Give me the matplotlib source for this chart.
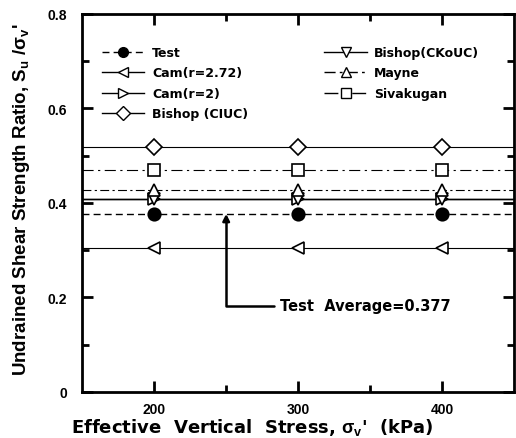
import matplotlib
matplotlib.use("Agg")
import matplotlib.pyplot as plt
from matplotlib.lines import Line2D

plt.rcParams['font.family'] = ['DejaVu Sans']
plt.rcParams['font.weight'] = 'bold'
plt.rcParams['mathtext.fontset'] = 'custom'
plt.rcParams['mathtext.rm'] = 'Liberation Sans:bold'
plt.rcParams['mathtext.it'] = 'Liberation Sans:bold'
plt.rcParams['xtick.labelsize'] = 10
plt.rcParams['ytick.labelsize'] = 10

stress = [200, 300, 400]
test = [0.377, 0.377, 0.377]
cam_272 = [0.305, 0.305, 0.305]
cam_2 = [0.408, 0.408, 0.408]
bishop_ciuc = [0.518, 0.518, 0.518]
bishop_ckouc = [0.408, 0.408, 0.408]
mayne = [0.428, 0.428, 0.428]
sivakugan = [0.469, 0.469, 0.469]
test_average = 0.377
xtick_labels = ['200', '300', '400']
ytick_labels = ['0', '0.2', '0.4', '0.6', '0.8']

fig = plt.figure(figsize=(5.16, 4.39), dpi=100)
ax = fig.add_axes([0.159, 0.105, 0.838, 0.861])

series = [
    ("Test", test, 'o', 'black', (0, (5, 3)), 1.0),
    ("Cam(r=2.72)", cam_272, '<', 'none', '-', 0.8),
    ("Cam(r=2)", cam_2, '>', 'none', '-', 1.0),
    ("Bishop (CIUC)", bishop_ciuc, 'D', 'none', '-', 0.8),
    ("Bishop(CKoUC)", bishop_ckouc, 'v', 'none', '-', 1.0),
    ("Mayne", mayne, '^', 'none', (0, (8, 3, 2, 3)), 0.8),
    ("Sivakugan", sivakugan, 's', 'none', (0, (10, 4, 2, 4)), 0.8),
]
msizes = {'o': 9, '<': 9, '>': 9, 'D': 8, 'v': 9, '^': 9, 's': 9}

handles = []
for name, vals, m, fc, ls, lw in series:
    ax.plot(stress, vals, linestyle='none', marker=m, markersize=msizes[m],
            markerfacecolor=fc if fc != 'none' else 'white',
            markeredgecolor='black', markeredgewidth=1.2, zorder=3)
    ax.axhline(sum(vals) / len(vals), color='black', linestyle=ls, lw=lw, zorder=2)
    handles.append(Line2D([], [], color='black', linestyle=ls, lw=1.0, marker=m,
                          markersize=7, markerfacecolor=fc if fc != 'none' else 'white',
                          markeredgecolor='black', label=name))

ax.set_xlim(150, 450)
ax.set_ylim(0, 0.8)
ax.tick_params(which='both', direction='in', top=True, right=True, width=2)
ax.tick_params(which='major', length=8)
ax.tick_params(which='minor', length=5)
ax.tick_params(axis='y', which='major', pad=11)
ax.tick_params(axis='x', which='major', pad=7)
ax.set_xticks([200, 300, 400])
ax.set_xticklabels(xtick_labels, family='Liberation Sans', fontsize=10,
                   fontweight='bold')
ax.set_xticks([250, 350], minor=True)
ax.set_yticks([0, 0.2, 0.4, 0.6, 0.8])
ax.set_yticklabels(ytick_labels, family='Liberation Sans', fontsize=10,
                   fontweight='bold')
ax.set_yticks([0.1, 0.3, 0.5, 0.7], minor=True)
for s in ax.spines.values():
    s.set_linewidth(2)

ax.set_xlabel("Effective  Vertical  Stress, $\\sigma_v$'  (kPa)", fontsize=13,
              fontweight='bold')
ax.xaxis.set_label_coords(0.395, -0.064)
ax.set_ylabel("Undrained Shear Strength Ratio, S$_u$ /$\\sigma_v$'", fontsize=13.5,
              fontweight='bold', family='Liberation Sans')
ax.yaxis.set_label_coords(-0.115, 0.51)

ax.annotate("", xy=(250, test_average), xytext=(283, 0.182),
            arrowprops=dict(arrowstyle='-|>', color='black', lw=1.8,
                            connectionstyle='angle,angleA=0,angleB=90,rad=0',
                            shrinkA=0, shrinkB=0, mutation_scale=10))
ax.text(287, 0.182, "Test  Average=0.377", fontsize=10.5, fontweight='bold',
        va='center', ha='left')

leg = ax.legend(handles=handles, ncol=2, loc='upper left', frameon=False,
                bbox_to_anchor=(0.02, 0.945), fontsize=9, handlelength=3.4,
                labelspacing=0.6, columnspacing=6.1, handletextpad=0.6)
for t in leg.get_texts():
    t.set_fontweight('bold')

fig.savefig("out.png", dpi=100)
